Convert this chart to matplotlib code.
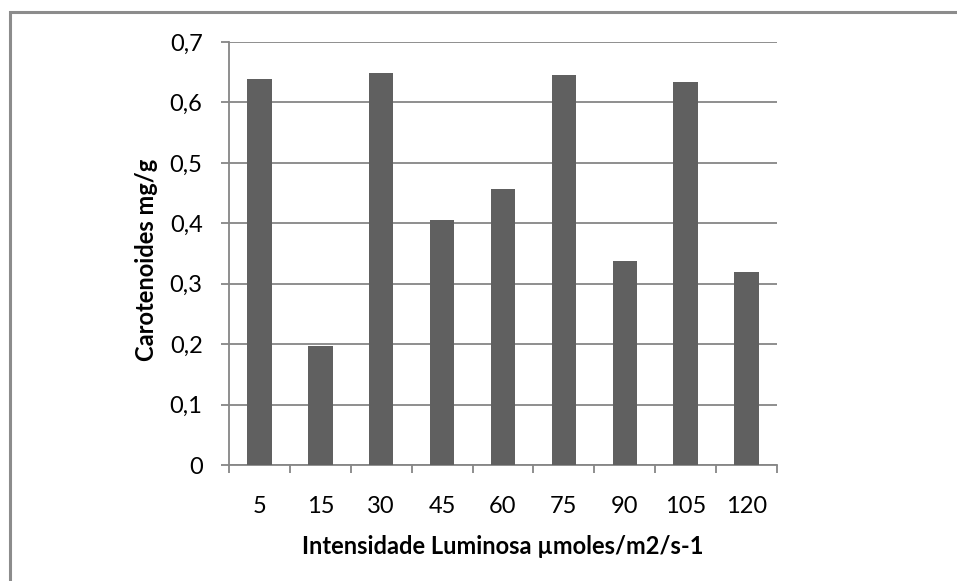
import matplotlib
matplotlib.use("Agg")
import matplotlib.pyplot as plt
from matplotlib.patches import Rectangle
import numpy as np

categories = ["5", "15", "30", "45", "60", "75", "90", "105", "120"]
values = [0.639, 0.197, 0.649, 0.405, 0.457, 0.645, 0.337, 0.633, 0.320]
yticks = [0, 0.1, 0.2, 0.3, 0.4, 0.5, 0.6, 0.7]
ytick_labels = ["0", "0,1", "0,2", "0,3", "0,4", "0,5", "0,6", "0,7"]

plt.rcParams['font.family'] = ['Lato', 'DejaVu Sans']

W, H = 957, 581
fig = plt.figure(figsize=(W / 100, H / 100), dpi=100)
fig.patch.set_facecolor("white")

# outer chart border (cut off at right/bottom)
fig.patches.append(Rectangle((9.5 / W, -0.1), 1.2, 1 - 12.5 / H + 0.1,
                             transform=fig.transFigure, fill=False,
                             edgecolor="#8c8c8c", linewidth=2.2, zorder=0))

ax = fig.add_axes([229 / W, (H - 465) / H, (777 - 229) / W, (465 - 42) / H])
x = np.arange(len(categories))
ax.bar(x, values, width=0.4, color="#606060", zorder=3)

ax.set_xlim(-0.5, len(categories) - 0.5)
ax.set_ylim(0, 0.7)
ax.set_yticks(yticks)
ax.set_yticklabels(ytick_labels)
ax.set_xticks(x)
ax.set_xticklabels(categories)
ax.set_xticks(np.arange(-0.5, len(categories), 1), minor=True)

grey = "#868686"
ax.grid(axis="y", color=grey, linewidth=1.3, zorder=1)
for s in ["top", "right"]:
    ax.spines[s].set_visible(False)
for s in ["left", "bottom"]:
    ax.spines[s].set_color(grey)
    ax.spines[s].set_linewidth(1.3)

ax.tick_params(axis="y", which="major", length=6, width=1.3, color=grey,
               labelsize=17, pad=13, labelcolor="black")
ax.tick_params(axis="x", which="major", length=0, labelsize=17, pad=22,
               labelcolor="black")
ax.tick_params(axis="x", which="minor", length=6, width=1.3, color=grey)

ax.set_xlabel("Intensidade Luminosa µmoles/m2/s-1", fontsize=17,
              fontweight="bold", labelpad=13)
ax.set_ylabel("Carotenoides mg/g", fontsize=17, fontweight="bold")
ax.yaxis.set_label_coords((158 - 229) / 548, 0.485)

fig.savefig("out.png", dpi=100, facecolor="white")
